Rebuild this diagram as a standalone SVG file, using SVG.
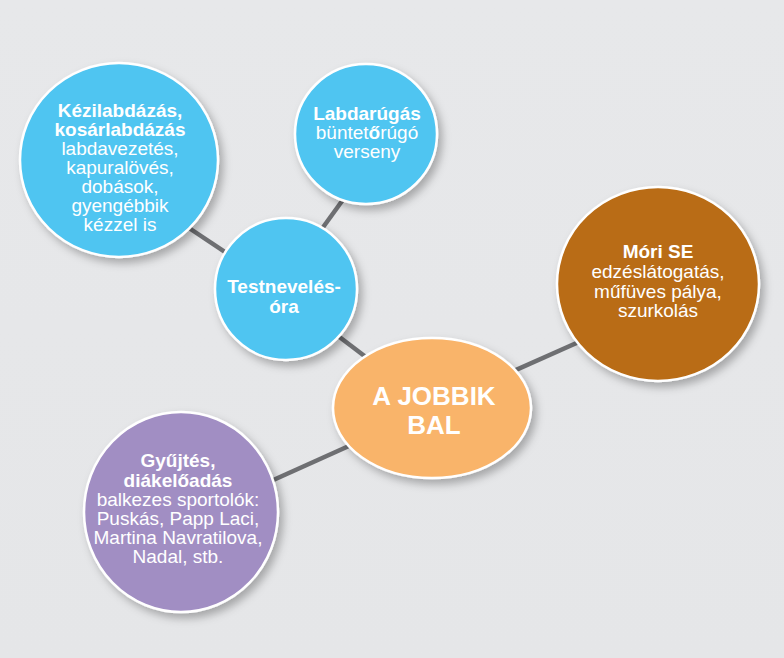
<svg xmlns="http://www.w3.org/2000/svg" width="784" height="658" viewBox="0 0 784 658">
<defs>
<filter id="sh" x="-20%" y="-20%" width="150%" height="150%">
<feDropShadow dx="4" dy="5" stdDeviation="4" flood-color="#000" flood-opacity="0.28"/>
</filter>
<linearGradient id="bg" x1="0" y1="0" x2="0" y2="1">
<stop offset="0" stop-color="#e7e8ea"/>
<stop offset="1" stop-color="#e5e6e8"/>
</linearGradient>
</defs>
<style>
.node{stroke:#ffffff;stroke-width:2.5;filter:url(#sh)}
.blue{fill:#4fc5f1}
.brown{fill:#b96c14}
.orange{fill:#f9b46a}
.purple{fill:#a18ec3}
.conn line{stroke:#6e6f72;stroke-width:4.5;stroke-linecap:butt}
text{font-family:"Liberation Sans",Arial,Helvetica,sans-serif;fill:#ffffff;text-anchor:middle;font-size:19px}
.b{font-weight:bold}
.big{font-weight:bold;font-size:26px}
</style>
<rect width="784" height="658" fill="url(#bg)"/>
<g id="connectors" class="conn">
<line x1="180" y1="222" x2="240" y2="262"/>
<line x1="350" y1="190" x2="316" y2="237"/>
<line x1="325" y1="326" x2="375" y2="364"/>
<line x1="500" y1="377" x2="590" y2="337"/>
<line x1="260" y1="486" x2="360" y2="441"/>
</g>
<g id="kezilabda">
<ellipse class="node blue" cx="119" cy="160" rx="99" ry="97"/>
<text x="120" y="117" class="b">Kézilabdázás,</text>
<text x="120" y="136" class="b">kosárlabdázás</text>
<text x="120" y="155">labdavezetés,</text>
<text x="120" y="174">kapuralövés,</text>
<text x="120" y="193">dobások,</text>
<text x="120" y="212">gyengébbik</text>
<text x="120" y="231">kézzel is</text>
</g>
<g id="labdarugas">
<ellipse class="node blue" cx="366" cy="134" rx="71" ry="70"/>
<text x="367" y="120" class="b">Labdarúgás</text>
<text x="367" y="139">büntet<tspan class="b">ő</tspan>rúgó</text>
<text x="367" y="158">verseny</text>
</g>
<g id="testneveles">
<ellipse class="node blue" cx="286" cy="289" rx="71" ry="71"/>
<text x="284" y="293" class="b">Testnevelés-</text>
<text x="284" y="313" class="b">óra</text>
</g>
<g id="mori">
<ellipse class="node brown" cx="658" cy="284" rx="101" ry="97"/>
<text x="658" y="258" class="b">Móri SE</text>
<text x="658" y="278">edzéslátogatás,</text>
<text x="658" y="298">műfüves pálya,</text>
<text x="658" y="317">szurkolás</text>
</g>
<g id="jobbik">
<ellipse class="node orange" cx="432" cy="408" rx="99" ry="70"/>
<text x="434" y="405" class="big">A JOBBIK</text>
<text x="434" y="434" class="big">BAL</text>
</g>
<g id="gyujtes">
<ellipse class="node purple" cx="181" cy="512" rx="97" ry="100"/>
<text x="178" y="467" class="b">Gyűjtés,</text>
<text x="178" y="487" class="b">diákelőadás</text>
<text x="178" y="506">balkezes sportolók:</text>
<text x="178" y="525">Puskás, Papp Laci,</text>
<text x="178" y="544">Martina Navratilova,</text>
<text x="178" y="563">Nadal, stb.</text>
</g>
</svg>
